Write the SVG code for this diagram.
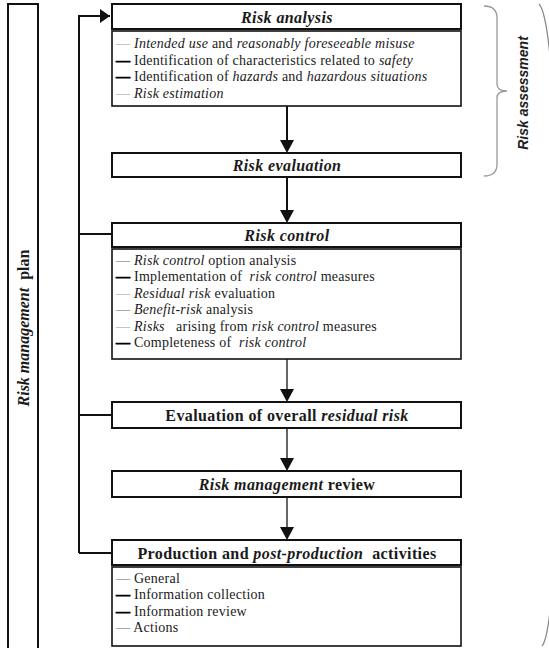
<svg xmlns="http://www.w3.org/2000/svg" width="549" height="648" viewBox="0 0 549 648">
<style>
.box{fill:#fff;stroke:#111;stroke-width:2}
.body{fill:#fff;stroke:#111;stroke-width:1.6}
.t{font-family:"Liberation Serif",serif;fill:#1a1a1a}
.h{font-size:16px;font-weight:bold;text-anchor:middle;letter-spacing:0.4px}
.b{font-size:14px;letter-spacing:0.25px}
.i{font-style:italic}
.dl{fill:#999}
.dg{fill:#666}
.dk{fill:#000;font-weight:bold;stroke:#000;stroke-width:0.7}
.con{stroke:#111;stroke-width:2;fill:none}
</style>
<defs>
<marker id="ah" markerWidth="10" markerHeight="14" refX="10" refY="7" orient="auto" markerUnits="userSpaceOnUse">
<path d="M0,0 L10,7 L0,14 Z" fill="#111"/>
</marker>
</defs>

<g id="plan">
<rect x="8" y="4" width="30" height="660" fill="#fff" stroke="#111" stroke-width="2"/>
<text class="t" transform="translate(28.5,328) rotate(-90)" text-anchor="middle" font-size="16" xml:space="preserve"><tspan font-style="italic" font-weight="bold">Risk management</tspan><tspan font-weight="bold">  plan</tspan></text>
</g>

<g id="connectors">
<path class="con" d="M79,553 L79,16 L110,16" marker-end="url(#ah)"/>
<path class="con" d="M79,234 L112,234"/>
<path class="con" d="M79,415 L112,415"/>
<path class="con" d="M79,553 L112,553"/>
<path class="con" d="M287,106 L287,141"/>
<path d="M280,140 L294,140 L287,153 Z" fill="#111"/>
<path class="con" d="M287,177 L287,211"/>
<path d="M280,210 L294,210 L287,223 Z" fill="#111"/>
<path d="M287,359 L287,390" stroke="#333" stroke-width="1.5"/>
<path d="M280,389 L294,389 L287,402 Z" fill="#111"/>
<path d="M287,428 L287,459" stroke="#333" stroke-width="1.5"/>
<path d="M280,458 L294,458 L287,471 Z" fill="#111"/>
<path d="M287,497 L287,528" stroke="#333" stroke-width="1.5"/>
<path d="M280,527 L294,527 L287,540 Z" fill="#111"/>
</g>

<g id="risk-analysis">
<rect class="box" x="112" y="4" width="349" height="25"/>
<rect class="body" x="112" y="31" width="349" height="75"/>
<text class="t h i" x="287" y="22.5">Risk analysis</text>
<text class="t b" x="116" y="48"><tspan class="dl">—</tspan> <tspan class="i">Intended use</tspan> and <tspan class="i">reasonably foreseeable misuse</tspan></text>
<text class="t b" x="116" y="64.5"><tspan class="dk">—</tspan> Identification of characteristics related to <tspan class="i">safety</tspan></text>
<text class="t b" x="116" y="81"><tspan class="dk">—</tspan> Identification of <tspan class="i">hazards</tspan> and <tspan class="i">hazardous situations</tspan></text>
<text class="t b" x="116" y="97.5"><tspan class="dl">—</tspan> <tspan class="i">Risk estimation</tspan></text>
</g>

<g id="risk-evaluation">
<rect class="box" x="112" y="153" width="349" height="24"/>
<text class="t h i" x="287" y="170.5">Risk evaluation</text>
</g>

<g id="risk-assessment">
<path d="M484,6 Q497,6 497,18 L497,84 Q497,91 507,91 M507,91 Q497,91 497,98 L497,164 Q497,176 484,176" fill="none" stroke="#999" stroke-width="1.3"/>
<text transform="translate(528,93) rotate(-90)" text-anchor="middle" font-family="Liberation Sans, sans-serif" font-size="14" font-style="italic" font-weight="bold" fill="#222">Risk assessment</text>
</g>

<g id="risk-control">
<rect class="box" x="112" y="223" width="349" height="24"/>
<rect class="body" x="112" y="249" width="349" height="110"/>
<text class="t h i" x="287" y="240.5">Risk control</text>
<text class="t b" x="116" y="264.5"><tspan class="dg">—</tspan> <tspan class="i">Risk control</tspan> option analysis</text>
<text class="t b" x="116" y="281" xml:space="preserve"><tspan class="dk">—</tspan> Implementation of  <tspan class="i">risk control</tspan> measures</text>
<text class="t b" x="116" y="297.5"><tspan class="dl">—</tspan> <tspan class="i">Residual risk</tspan> evaluation</text>
<text class="t b" x="116" y="314"><tspan class="dg">—</tspan> <tspan class="i">Benefit-risk</tspan> analysis</text>
<text class="t b" x="116" y="330.5" xml:space="preserve"><tspan class="dl">—</tspan> <tspan class="i">Risks</tspan>   arising from <tspan class="i">risk control</tspan> measures</text>
<text class="t b" x="116" y="347" xml:space="preserve"><tspan class="dk">—</tspan> Completeness of  <tspan class="i">risk control</tspan></text>
</g>

<g id="overall-residual-risk">
<rect class="box" x="112" y="402" width="349" height="26"/>
<text class="t h" x="287" y="420.5">Evaluation of overall <tspan class="i">residual risk</tspan></text>
</g>

<g id="risk-management-review">
<rect class="box" x="112" y="471" width="349" height="26"/>
<text class="t h" x="287" y="489.5"><tspan class="i">Risk management</tspan> review</text>
</g>

<g id="production">
<rect class="box" x="112" y="540" width="349" height="25"/>
<rect class="body" x="112" y="567" width="349" height="79"/>
<text class="t h" x="287" y="558.5" xml:space="preserve">Production and <tspan class="i">post-production</tspan>  activities</text>
<text class="t b" x="116" y="582.5"><tspan class="dg">—</tspan> General</text>
<text class="t b" x="116" y="599"><tspan class="dk">—</tspan> Information collection</text>
<text class="t b" x="116" y="615.5"><tspan class="dk">—</tspan> Information review</text>
<text class="t b" x="116" y="632"><tspan class="dg">—</tspan> Actions</text>
</g>

<path d="M539,4 C566,30 566,620 542,646" fill="none" stroke="#888" stroke-width="1.3"/>
</svg>
